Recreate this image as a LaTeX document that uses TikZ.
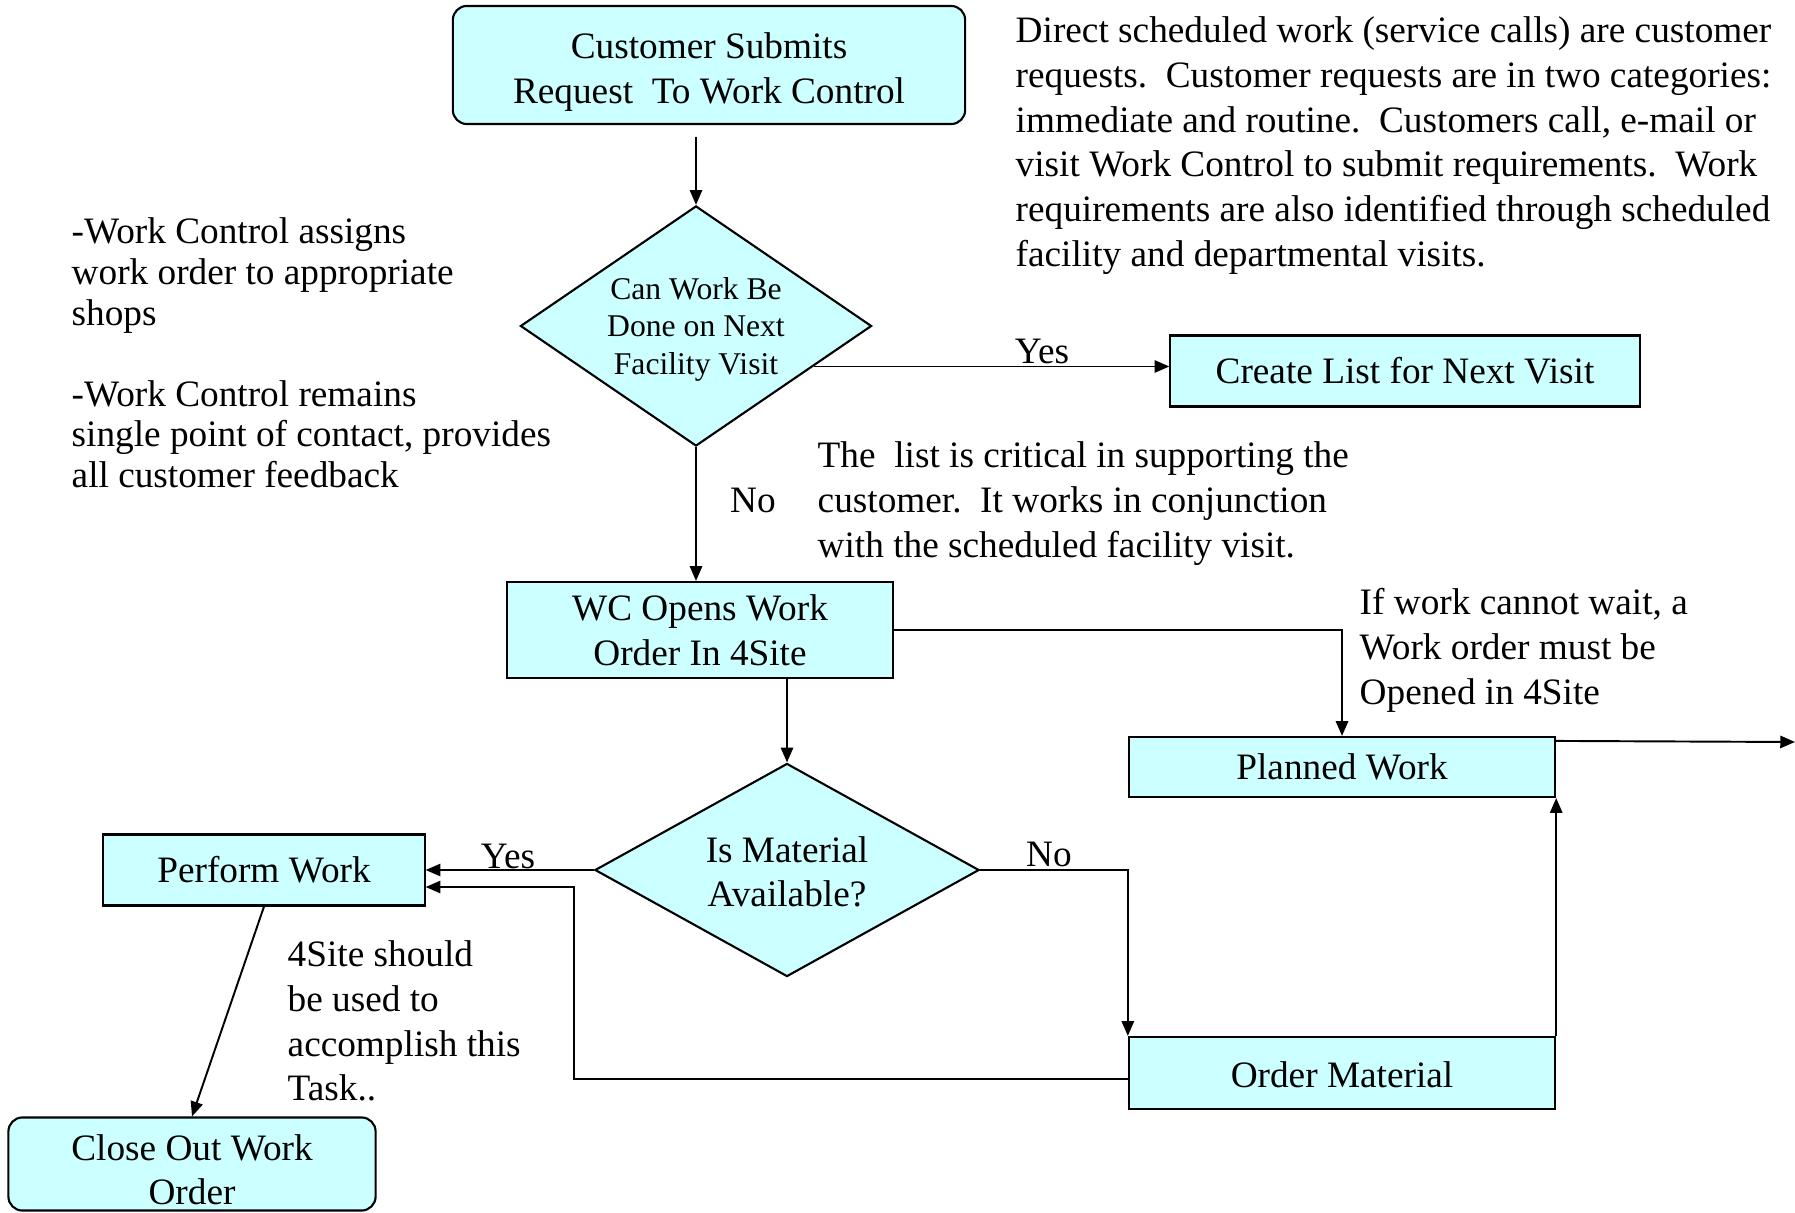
\documentclass[tikz,border=0pt]{standalone}
\usepackage{fontspec}
\setmainfont{Liberation Serif}
\usepackage{tikz}
\usetikzlibrary{shapes.geometric, arrows.meta, positioning, calc}
\definecolor{boxcyan}{RGB}{204,255,255}

\begin{document}
\begin{tikzpicture}[x=0.01cm, y=-0.01cm,
    font=\fontsize{10.6}{12.7}\selectfont,
    box/.style={draw, fill=boxcyan, line width=0.6pt, align=center, inner sep=0pt},
    rbox/.style={box, rounded corners=0.14cm},
    choice/.style={diamond, draw, fill=boxcyan, line width=0.6pt, align=center, inner sep=0pt},
    arrow/.style={-{Triangle[length=4.2pt, width=3.5pt]}, line width=0.55pt},
    note/.style={align=left, anchor=west, inner sep=0pt},
    lbl/.style={anchor=base, inner sep=0pt}
]
    \useasboundingbox (0,0) rectangle (1795,1213);

    % boxes and decisions
    \node[rbox, minimum width=5.12cm, minimum height=1.18cm] (cust) at (709,65) {\rule{0pt}{11.3pt}Customer Submits\\Request\ \ To Work Control};
    \node[choice, aspect=1.46, minimum width=3.51cm, minimum height=2.40cm, font=\fontsize{9}{10.8}\selectfont] (canwork) at (696,326) {\rule{0pt}{8.2pt}Can Work Be\\Done on Next\\Facility Visit};
    \node[box, minimum width=4.69cm, minimum height=0.71cm] (list) at (1405,371) {Create List for Next Visit};
    \node[box, minimum width=3.85cm, minimum height=0.96cm] (wc) at (700,630) {WC Opens Work\\Order In 4Site};
    \node[box, minimum width=4.26cm, minimum height=0.60cm] (planned) at (1342,767) {Planned Work};
    \node[choice, aspect=1.8, minimum width=3.84cm, minimum height=2.13cm] (material) at (787,870) {\rule{0pt}{8.4pt}Is Material\\Available?};
    \node[box, minimum width=3.21cm, minimum height=0.71cm] (perform) at (264,870) {Perform Work};
    \node[box, minimum width=4.26cm, minimum height=0.72cm] (order) at (1342,1073) {\rule{0pt}{8.4pt}Order Material};
    \node[rbox, minimum width=3.67cm, minimum height=0.93cm] (close) at (192,1164) {\rule{0pt}{10.7pt}Close Out Work\\Order};

    \coordinate (offpage) at (1795,742);
    \coordinate (loop) at (574,887);

    % connectors
    \draw[arrow] ($(cust.south -| canwork.north)+(0,12)$) -- (canwork.north);
    \draw[arrow] (canwork.-19.5) -- (canwork.-19.5 -| list.west);
    \draw[arrow] (canwork.south) -- (canwork.south |- wc.north);
    \draw[arrow] (wc.east) -| (planned.north);
    \draw[arrow] ($(planned.north east)+(0,5)$) -- (offpage);
    \draw[arrow] (material.north |- wc.south) -- (material.north);
    \draw[arrow] (material.west) -- (perform.east);
    \draw[arrow] (material.east) -| (order.north west);
    \draw[arrow] ([yshift=-0.06cm]order.west) -| (loop) -- (loop -| perform.east);
    \draw[arrow] (order.north east) -- (planned.south east);
    \draw[arrow] (perform.south) -- (close.north);

    % labels
    \node[lbl] (yes1) at (1042,364) {Yes};
    \node[lbl] (no1) at (753,512) {No};
    \node[lbl] (yes2) at (508,868) {Yes};
    \node[lbl] (no2) at (1049,866) {No};

    % notes
    \node[note, font=\fontsize{10.6}{11.55}\selectfont] (roles) at (71,353) {-Work Control assigns\\work order to appropriate\\shops\\[11.55pt]-Work Control remains\\single point of contact, provides\\all customer feedback};
    \node[note] (about) at (1015,145.5) {Direct scheduled work (service calls) are customer\\requests.\ \ Customer requests are in two categories:\\immediate and routine.\ \ Customers call, e-mail or\\visit Work Control to submit requirements.\ \ Work\\requirements are also identified through scheduled\\facility and departmental visits.};
    \node[note] (listnote) at (817,503.5) {The\ \ list is critical in supporting the\\customer.\ \ It works in conjunction\\with the scheduled facility visit.};
    \node[note] (urgent) at (1359,650.5) {If work cannot wait, a\\Work order must be\\Opened in 4Site};
    \node[note] (tasknote) at (287,1021) {4Site should\\be used to\\accomplish this\\Task..};
\end{tikzpicture}
\end{document}
